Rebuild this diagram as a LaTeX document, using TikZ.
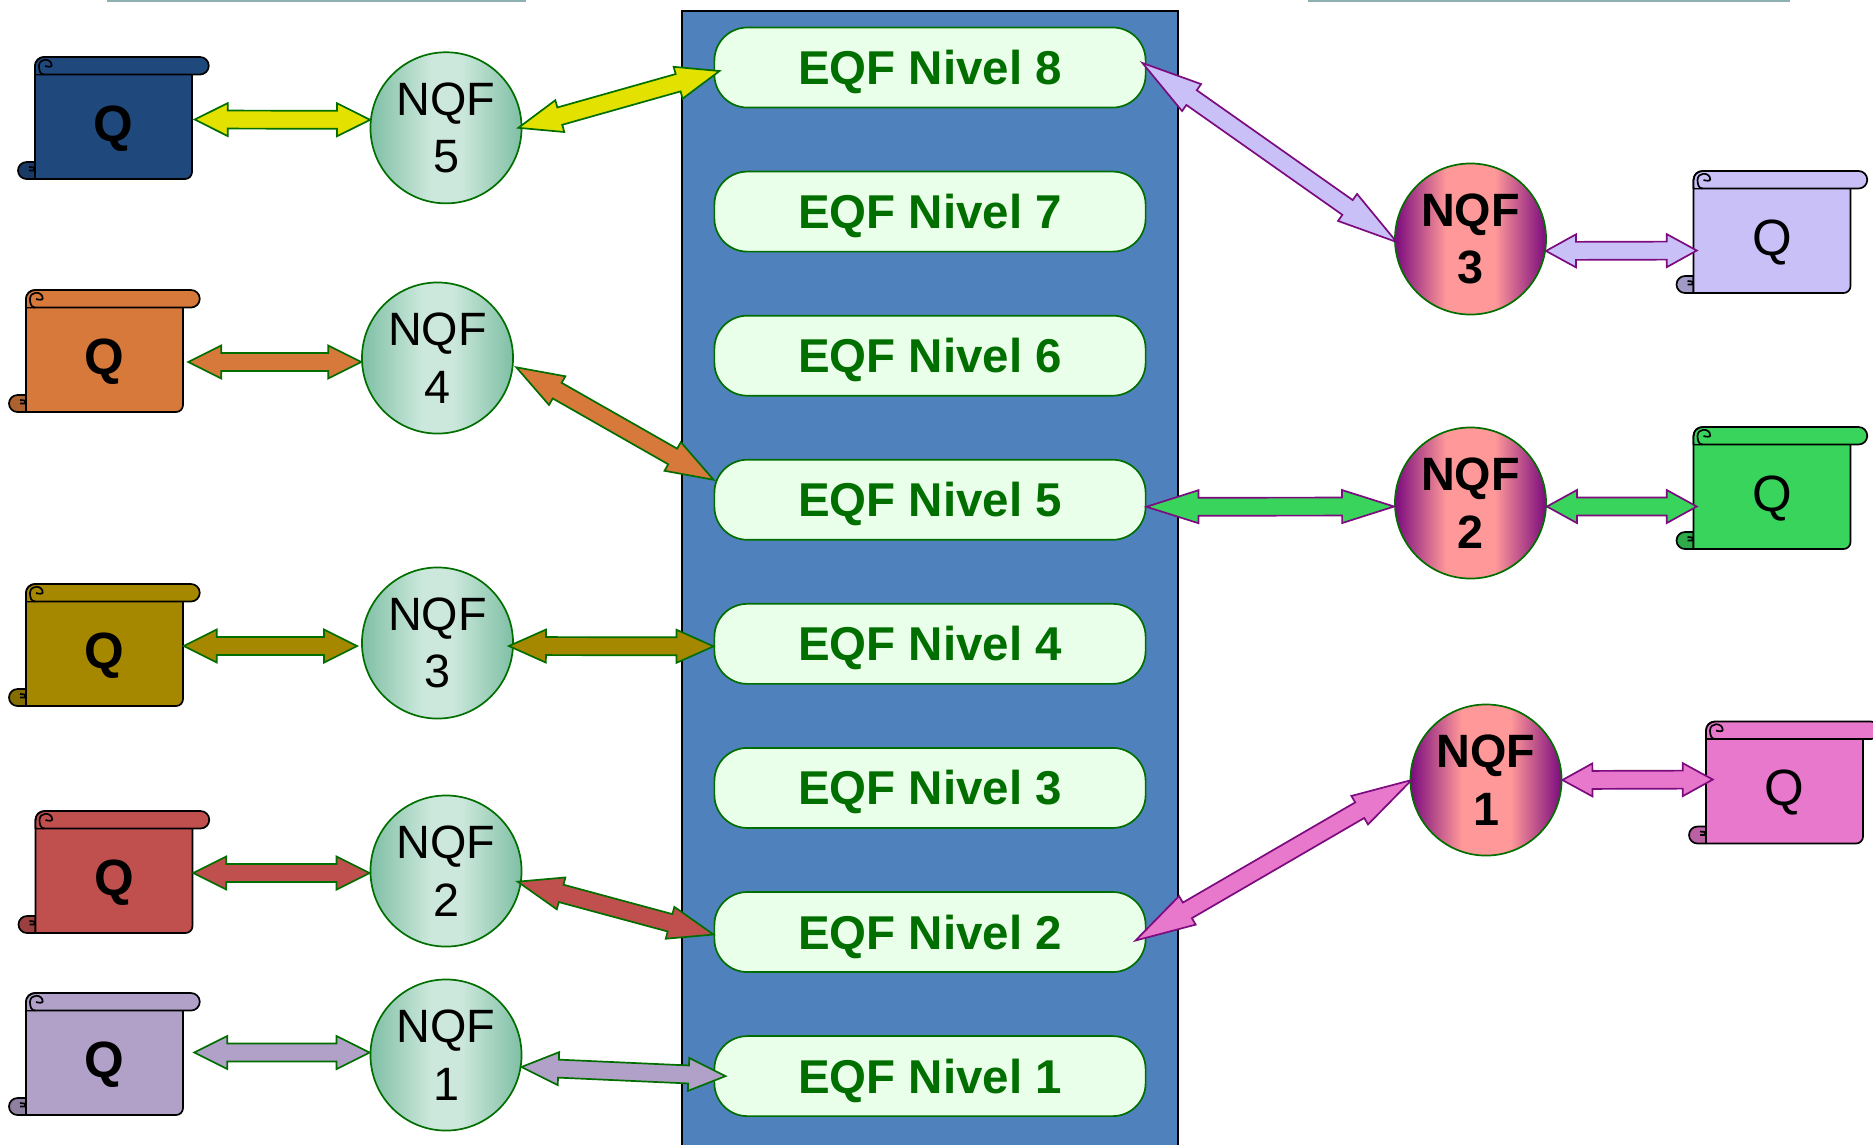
\documentclass[tikz,border=0pt]{standalone}
\usepackage{fontspec}
\setmainfont{Liberation Sans}
\usepackage{xcolor}
\usetikzlibrary{positioning,calc}
\definecolor{panelblue}{HTML}{4F81BD}
\definecolor{boxfill}{HTML}{EAFFEA}
\definecolor{darkgreen}{HTML}{006F00}
\definecolor{toprule}{HTML}{8FB0B0}
\definecolor{edgegreen}{HTML}{7FBFA5}
\definecolor{midgreen}{HTML}{CCE8DC}
\definecolor{edgepurple}{HTML}{7B0B7E}
\definecolor{midpink}{HTML}{FF9999}
\definecolor{qnavy}{HTML}{1F497D}
\definecolor{qorange}{HTML}{D7793B}
\definecolor{qolive}{HTML}{A68800}
\definecolor{qred}{HTML}{C0504D}
\definecolor{qlilac}{HTML}{B1A0C7}
\definecolor{qyellow}{HTML}{E3E100}
\definecolor{qviolet}{HTML}{C9C0F8}
\definecolor{qgreen}{HTML}{39D45C}
\definecolor{qpink}{HTML}{E878CC}
\pgfdeclarehorizontalshading{greenbar}{100bp}{color(0bp)=(edgegreen); color(25bp)=(edgegreen); color(45bp)=(midgreen); color(55bp)=(midgreen); color(75bp)=(edgegreen); color(100bp)=(edgegreen)}
\pgfdeclarehorizontalshading{pinkbar}{100bp}{color(0bp)=(edgepurple); color(25bp)=(edgepurple); color(42bp)=(midpink); color(58bp)=(midpink); color(75bp)=(edgepurple); color(100bp)=(edgepurple)}
\tikzset{
    eqfbox/.style={rectangle, rounded corners=.33cm, minimum width=4.31cm, minimum height=.8cm, inner sep=0pt, text height=.34cm, text depth=0pt, draw=darkgreen, line width=.017cm, fill=boxfill, text=darkgreen, font=\fontsize{13.5}{16}\selectfont\bfseries},
    nqfleft/.style={circle, minimum size=1.51cm, inner sep=0pt, align=center, draw=darkgreen, line width=.017cm, shading=greenbar, font=\fontsize{13.3}{16.3}\selectfont, execute at begin node=\rule{0pt}{11pt}},
    nqfright/.style={circle, minimum size=1.51cm, inner sep=0pt, align=center, draw=darkgreen, line width=.017cm, shading=pinkbar, font=\fontsize{13.3}{16.3}\selectfont\bfseries, execute at begin node=\rule{0pt}{11pt}},
    scrollline/.style={draw=black, line width=.017cm, line join=round},
    scrollbody/.style={rectangle, minimum width=1.57cm, minimum height=1.22cm, inner sep=0pt, text height=.46cm, text depth=0pt},
    dblarrow/.style={line width=.017cm, line join=miter, to path={
        -- ($(\tikztostart)!#1!(\tikztotarget)!.165cm!90:(\tikztotarget)$)
        -- ($(\tikztostart)!#1!(\tikztotarget)!.09cm!90:(\tikztotarget)$)
        -- ($(\tikztotarget)!#1!(\tikztostart)!.09cm!-90:(\tikztostart)$)
        -- ($(\tikztotarget)!#1!(\tikztostart)!.165cm!-90:(\tikztostart)$)
        -- (\tikztotarget)
        -- ($(\tikztotarget)!#1!(\tikztostart)!.165cm!90:(\tikztostart)$)
        -- ($(\tikztotarget)!#1!(\tikztostart)!.09cm!90:(\tikztostart)$)
        -- ($(\tikztostart)!#1!(\tikztotarget)!.09cm!-90:(\tikztotarget)$)
        -- ($(\tikztostart)!#1!(\tikztotarget)!.165cm!-90:(\tikztotarget)$)
        -- cycle}},
    dblarrow/.default=.33cm,
}
% name, left, top, colour, font of the Q
\newcommand{\qscroll}[5]{
  \begin{scope}[shift={(#2,#3)}]
    \draw[scrollline, fill=#4!80!black] (0,105) -- (-8.5,105) arc (270:90:8.5) -- (0,122) -- cycle;
    \draw[scrollline] (-6,110) -- (-1,110.5) -- (-1,113.5) -- (-6,113.5);
    \draw[scrollline, fill=#4] (0,9) -- (0,122) [rounded corners=.07cm] -- (157,122) -- (157,12) [sharp corners] -- (9,12) -- cycle;
    \draw[scrollline, fill=#4] (9,0) -- (165,0) arc (-90:90:8.75) -- (9,17.5) -- (0,17.5) -- (0,9) arc (180:270:9);
    \draw[draw=none, fill=#4] (1,3) rectangle (8,16.6);
    \draw[scrollline] (0,9) arc (180:270:9);
    \draw[scrollline] (9,17.5) .. controls (5,17.5) and (4,13) .. (4,9) .. controls (4,5) and (7,2.7) .. (10,2.7) .. controls (14,2.7) and (16.7,5) .. (16.7,8.5) .. controls (16.7,10) and (13,10) .. (10,9);
    \node[scrollbody, font=\fontsize{14.5}{16}\selectfont#5] (#1) at (78.5,61) {Q};
  \end{scope}
}
\begin{document}
\begin{tikzpicture}[x=.01cm,y=-.01cm,node distance=1.44cm]
  \useasboundingbox (0,0) rectangle (1873,1144);
  \fill[toprule] (107,0) rectangle (526,1.5);
  \fill[toprule] (1308,0) rectangle (1790,1.5);
  \draw[fill=panelblue, line width=.02cm] (682,11) rectangle (1178,1170);

  \node[eqfbox] (eqf8) at (930,67.5) {EQF Nivel 8};
  \node[eqfbox] (eqf7) [below of=eqf8] {EQF Nivel 7};
  \node[eqfbox] (eqf6) [below of=eqf7] {EQF Nivel 6};
  \node[eqfbox] (eqf5) [below of=eqf6] {EQF Nivel 5};
  \node[eqfbox] (eqf4) [below of=eqf5] {EQF Nivel 4};
  \node[eqfbox] (eqf3) [below of=eqf4] {EQF Nivel 3};
  \node[eqfbox] (eqf2) [below of=eqf3] {EQF Nivel 2};
  \node[eqfbox] (eqf1) [below of=eqf2] {EQF Nivel 1};

  \node[nqfleft] (nqf5) at (446,127.8) {NQF\\5};
  \node[nqfleft] (nqf4) at (437.5,358) {NQF\\4};
  \node[nqfleft] (nqf3) at (437.5,643) {NQF\\3};
  \node[nqfleft] (nqf2) at (446,871) {NQF\\2};
  \node[nqfleft] (nqf1) at (446,1055) {NQF\\1};
  \node[nqfright] (rnqf3) at (1470.5,239) {NQF\\3};
  \node[nqfright] (rnqf2) at (1470.5,503) {NQF\\2};
  \node[nqfright] (rnqf1) at (1486,780) {NQF\\1};

  \qscroll{q5}{35}{57}{qnavy}{\bfseries}
  \qscroll{q4}{26}{290}{qorange}{\bfseries}
  \qscroll{q3}{26}{584}{qolive}{\bfseries}
  \qscroll{q2}{35.5}{811}{qred}{\bfseries}
  \qscroll{q1}{26}{993}{qlilac}{\bfseries}
  \qscroll{rq3}{1693.5}{171}{qviolet}{}
  \qscroll{rq2}{1693.5}{427}{qgreen}{}
  \qscroll{rq1}{1706}{721.5}{qpink}{}

  \path[dblarrow, draw=darkgreen, fill=qyellow] ([xshift=.02cm,yshift=-.015cm]q5.east) to (nqf5.174);
  \path[dblarrow=.43cm, draw=darkgreen, fill=qyellow] ([xshift=-.04cm]nqf5.east) to ([xshift=.06cm,yshift=-.035cm]eqf8.west);
  \path[dblarrow, draw=darkgreen, fill=qorange] ([xshift=.045cm,yshift=-.11cm]q4.east) to (nqf4.183);
  \path[dblarrow=.47cm, draw=darkgreen, fill=qorange] ([xshift=.03cm]nqf4.-7) to ([yshift=.2cm]eqf5.west);
  \path[dblarrow, draw=darkgreen, fill=qolive] ([yshift=-.01cm]q3.east) to ([xshift=-.04cm,yshift=-.03cm]nqf3.west);
  \path[dblarrow=.37cm, draw=darkgreen, fill=qolive] ([xshift=-.05cm,yshift=-.03cm]nqf3.east) to ([yshift=-.025cm]eqf4.west);
  \path[dblarrow, draw=darkgreen, fill=qred] ([yshift=-.01cm]q2.east) to ([yshift=-.02cm]nqf2.west);
  \path[dblarrow=.45cm, draw=darkgreen, fill=qred] ([xshift=-.04cm]nqf2.-8) to ([yshift=-.025cm]eqf2.west);
  \path[dblarrow, draw=darkgreen, fill=qlilac] ([xshift=.105cm,yshift=.015cm]q1.east) to ([yshift=.025cm]nqf1.west);
  \path[dblarrow=.37cm, draw=darkgreen, fill=qlilac] (nqf1.-9) to ([xshift=.12cm]eqf1.west);
  \path[dblarrow=.6cm, draw=edgepurple, fill=qviolet] ([xshift=-.04cm,yshift=.045cm]eqf8.east) to ([xshift=.025cm,yshift=-.03cm]rnqf3.west);
  \path[dblarrow=.3cm, draw=edgepurple, fill=qviolet] (rnqf3.-9) to ([xshift=.04cm,yshift=-.185cm]rq3.west);
  \path[dblarrow=.52cm, draw=edgepurple, fill=qgreen] ([yshift=-.07cm]eqf5.east) to ([yshift=-.035cm]rnqf2.west);
  \path[dblarrow=.3cm, draw=edgepurple, fill=qgreen] ([yshift=-.035cm]rnqf2.east) to ([xshift=.04cm,yshift=-.185cm]rq2.west);
  \path[dblarrow=.6cm, draw=edgepurple, fill=qpink] ([xshift=-.11cm,yshift=-.085cm]eqf2.east) to ([xshift=.02cm]rnqf1.west);
  \path[dblarrow=.3cm, draw=edgepurple, fill=qpink] (rnqf1.east) to ([xshift=.075cm,yshift=.03cm]rq1.west);
\end{tikzpicture}
\end{document}
